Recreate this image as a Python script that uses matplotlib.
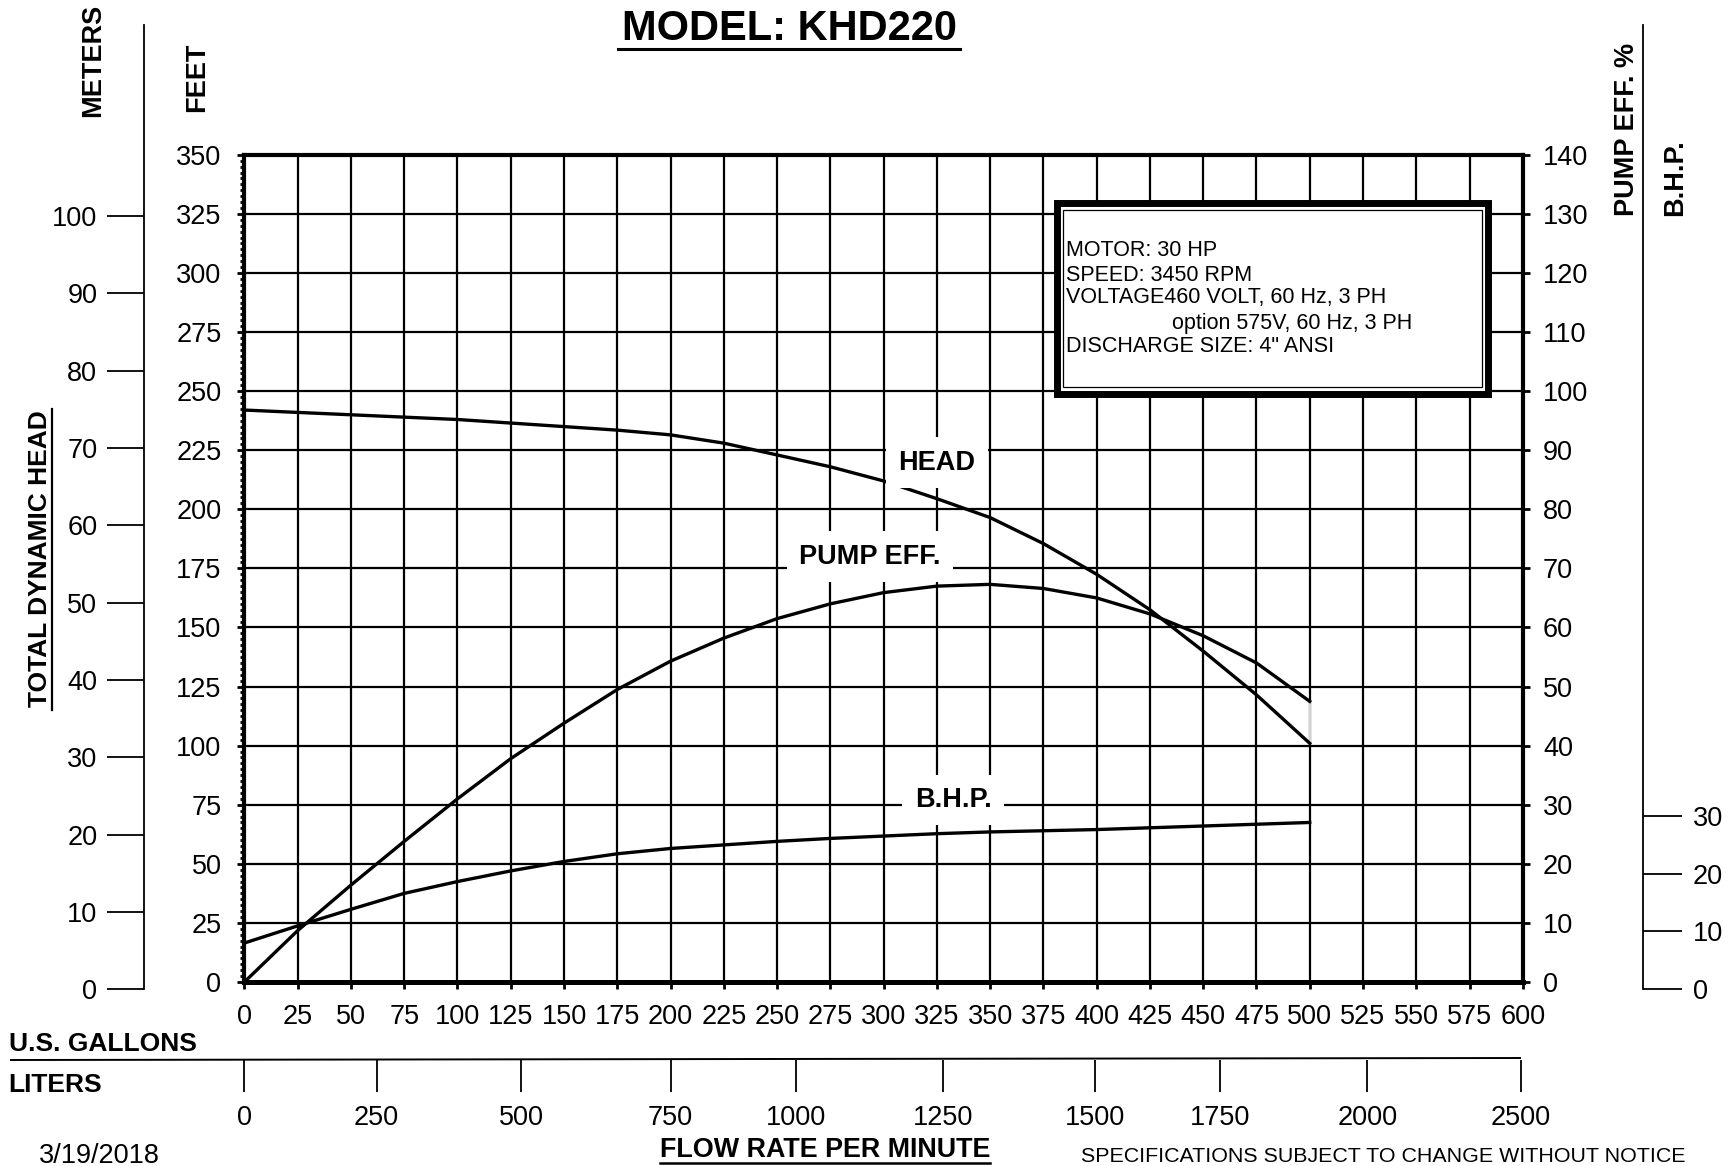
import matplotlib
matplotlib.use('Agg')
import matplotlib.pyplot as plt
from matplotlib.patches import Rectangle
from matplotlib.lines import Line2D
from matplotlib.ticker import MultipleLocator

plt.rcParams['font.family'] = ['Liberation Sans', 'DejaVu Sans']

# --- data ---
flow_gpm = [0, 25, 50, 75, 100, 125, 150, 175, 200, 225, 250,
            275, 300, 325, 350, 375, 400, 425, 450, 475, 500]
head_ft = [242, 241, 240, 239, 238, 236.5, 235, 233.5, 231.5, 228, 223,
           218, 212, 204.5, 196.5, 185.5, 172.5, 157.5, 140, 121.5, 101]
eff_pct = [0, 8.7, 16.4, 23.8, 31, 37.8, 43.8, 49.5, 54.3, 58.2, 61.5,
           64, 65.9, 67, 67.3, 66.6, 65, 62.3, 58.6, 54, 47.5]
bhp = [6.6, 9.5, 12.3, 15, 17, 18.8, 20.4, 21.7, 22.6, 23.2, 23.8,
       24.3, 24.7, 25.1, 25.4, 25.6, 25.8, 26.1, 26.4, 26.7, 27]

gpm_ticks = list(range(0, 601, 25))
ft_ticks = list(range(0, 351, 25))
eff_ticks = list(range(0, 141, 10))
meter_ticks = list(range(0, 101, 10))
bhp_ticks = [0, 10, 20, 30]
liter_labels = ['0', '250', '500', '750', '1000', '1250', '1500', '1750', '2000', '2500']
liter_pos_gpm = [0, 62, 130, 200, 259, 328, 399, 458, 527, 599]

info_lines = ['MOTOR: 30 HP', 'SPEED: 3450 RPM', 'VOLTAGE460 VOLT, 60 Hz, 3 PH',
              'option 575V, 60 Hz, 3 PH', 'DISCHARGE SIZE: 4" ANSI']

W, H = 1734, 1166
NUM = 19.5   # size of the scale numbers
LAB = 19.5   # size of the bold captions


def fx(px):
    return px / W


def fy(py):
    return 1 - py / H


fig = plt.figure(figsize=(W / 100, H / 100), dpi=100)
fig.patch.set_facecolor('white')

# main chart, feet vs gpm
ax = fig.add_axes([fx(244.4), fy(982), 1278.4 / W, 827.2 / H])
ax.set_xlim(0, 600)
ax.set_ylim(0, 350)
ax.set_xticks(gpm_ticks)
ax.set_yticks(ft_ticks)
ax.yaxis.set_minor_locator(MultipleLocator(2.5))
ax.set_axisbelow(True)
ax.grid(True, which='major', color='black', lw=1.6)
for s in ax.spines.values():
    s.set_linewidth(3)
ax.spines['bottom'].set_linewidth(3.6)
ax.tick_params(axis='x', direction='out', length=5, width=2, labelsize=NUM, pad=11)
ax.tick_params(axis='y', which='major', direction='out', length=5, width=2,
               labelsize=NUM, pad=11.5)
ax.tick_params(axis='y', which='minor', direction='out', length=3, width=2)

ax.plot(flow_gpm, head_ft, color='black', lw=2.4, zorder=3)
# small white gap on the 500 gpm grid line between the curve ends
ax.plot([flow_gpm[-1]] * 2, [head_ft[-1], eff_pct[-1] * 350 / 140],
        color='white', lw=1.2, zorder=1)

# info box
ax.add_patch(Rectangle((381.6, 249), 202.3, 80.4, fc='white', ec='black',
                       lw=5, zorder=4))
ax.add_patch(Rectangle((384.2, 251.8), 196.6, 74.8, fill=False, ec='black',
                       lw=0.9, zorder=5))

lbl = dict(ha='center', va='center', fontsize=LAB, fontweight='bold', zorder=6,
           bbox=dict(fc='white', ec='none', pad=9))
ax.text(325, 219.7, 'HEAD', **lbl)
ax.text(293.6, 180, 'PUMP EFF.', **lbl)
ax.text(332.7, 77, 'B.H.P.', **lbl)

# efficiency % / bhp scale on the right
ax2 = ax.twinx()
ax2.set_ylim(0, 140)
ax2.set_yticks(eff_ticks)
for s in ax2.spines.values():
    s.set_visible(False)
ax2.tick_params(axis='y', direction='out', length=5, width=2, labelsize=NUM, pad=9.5)
ax2.plot(flow_gpm, eff_pct, color='black', lw=2.4, zorder=3)
ax2.plot(flow_gpm, bhp, color='black', lw=2.4, zorder=3)

# meters scale
ax_m = fig.add_axes([fx(144), fy(989.3), 0.0001, (989.3 - 25) / H])
ax_m.set_ylim(0, 124.7)
ax_m.set_yticks(meter_ticks)
ax_m.set_xticks([])
ax_m.patch.set_visible(False)
for k, s in ax_m.spines.items():
    s.set_visible(k == 'left')
ax_m.spines['left'].set_linewidth(1.3)
ax_m.tick_params(axis='y', direction='out', length=26.6, width=1.3, labelsize=NUM, pad=7)

# bhp scale
ax_b = fig.add_axes([fx(1642.7), fy(989.3), 0.0001, (989.3 - 25) / H])
ax_b.set_ylim(0, 166.8)
ax_b.set_yticks(bhp_ticks)
ax_b.set_xticks([])
ax_b.patch.set_visible(False)
ax_b.yaxis.tick_right()
for k, s in ax_b.spines.items():
    s.set_visible(k == 'right')
ax_b.spines['right'].set_linewidth(1.3)
ax_b.tick_params(axis='y', direction='out', length=28, width=1.3, labelsize=NUM, pad=8)

# liters scale
ax_l = fig.add_axes([fx(244.4), fy(1060), 1278.4 / W, 0.0001])
ax_l.set_xlim(0, 600)
ax_l.set_xticks(liter_pos_gpm)
ax_l.set_xticklabels(liter_labels)
ax_l.set_yticks([])
ax_l.patch.set_visible(False)
for s in ax_l.spines.values():
    s.set_visible(False)
ax_l.tick_params(axis='x', direction='out', length=23, width=1.3, labelsize=NUM, pad=9.5)

# lines drawn on the sheet
def fig_line(x0, y0, x1, y1, lw):
    fig.add_artist(Line2D([fx(x0), fx(x1)], [fy(y0), fy(y1)], color='black', lw=lw))


fig_line(11, 1060, 1520, 1058, 1.4)     # gallons / liters divider
fig_line(618, 49, 960, 49, 2.2)         # title underline
fig_line(660, 1163, 990, 1163, 1.8)     # flow rate underline
fig_line(52.3, 409, 52.3, 710, 1.6)     # total dynamic head underline

# info box text
info_y = [250, 275, 298, 323, 347]
info_x = [1066.5, 1066.5, 1066.5, 1172, 1066.5]
for t, xx, yy in zip(info_lines, info_x, info_y):
    fig.text(fx(xx), fy(yy), t, ha='left', va='center', fontsize=15.5)

bold = dict(fontweight='bold')
fig.text(fx(789), fy(28.5), 'MODEL: KHD220', ha='center', va='center', fontsize=30, **bold)
fig.text(fx(93), fy(60), 'METERS', rotation=90, ha='center', va='center', fontsize=LAB, **bold)
fig.text(fx(197), fy(77), 'FEET', rotation=90, ha='center', va='center', fontsize=LAB, **bold)
fig.text(fx(39.7), fy(559), 'TOTAL DYNAMIC HEAD', rotation=90, ha='center', va='center',
         fontsize=19, **bold)
fig.text(fx(1627), fy(216), 'PUMP EFF. %', rotation=90, ha='center', va='bottom', fontsize=LAB, **bold)
fig.text(fx(1675), fy(216), 'B.H.P.', rotation=90, ha='center', va='bottom', fontsize=LAB, **bold)
fig.text(fx(8.6), fy(1044), 'U.S. GALLONS', ha='left', va='center', fontsize=19, **bold)
fig.text(fx(8.6), fy(1085), 'LITERS', ha='left', va='center', fontsize=19, **bold)
fig.text(fx(99.5), fy(1156), '3/19/2018', ha='center', va='center', fontsize=19.5)
fig.text(fx(825), fy(1150), 'FLOW RATE PER MINUTE', ha='center', va='center', fontsize=19.4, **bold)
fig.text(fx(1081), fy(1157), 'SPECIFICATIONS SUBJECT TO CHANGE WITHOUT NOTICE',
         ha='left', va='center', fontsize=15.4)

fig.savefig('out.png', dpi=100, facecolor='white')
